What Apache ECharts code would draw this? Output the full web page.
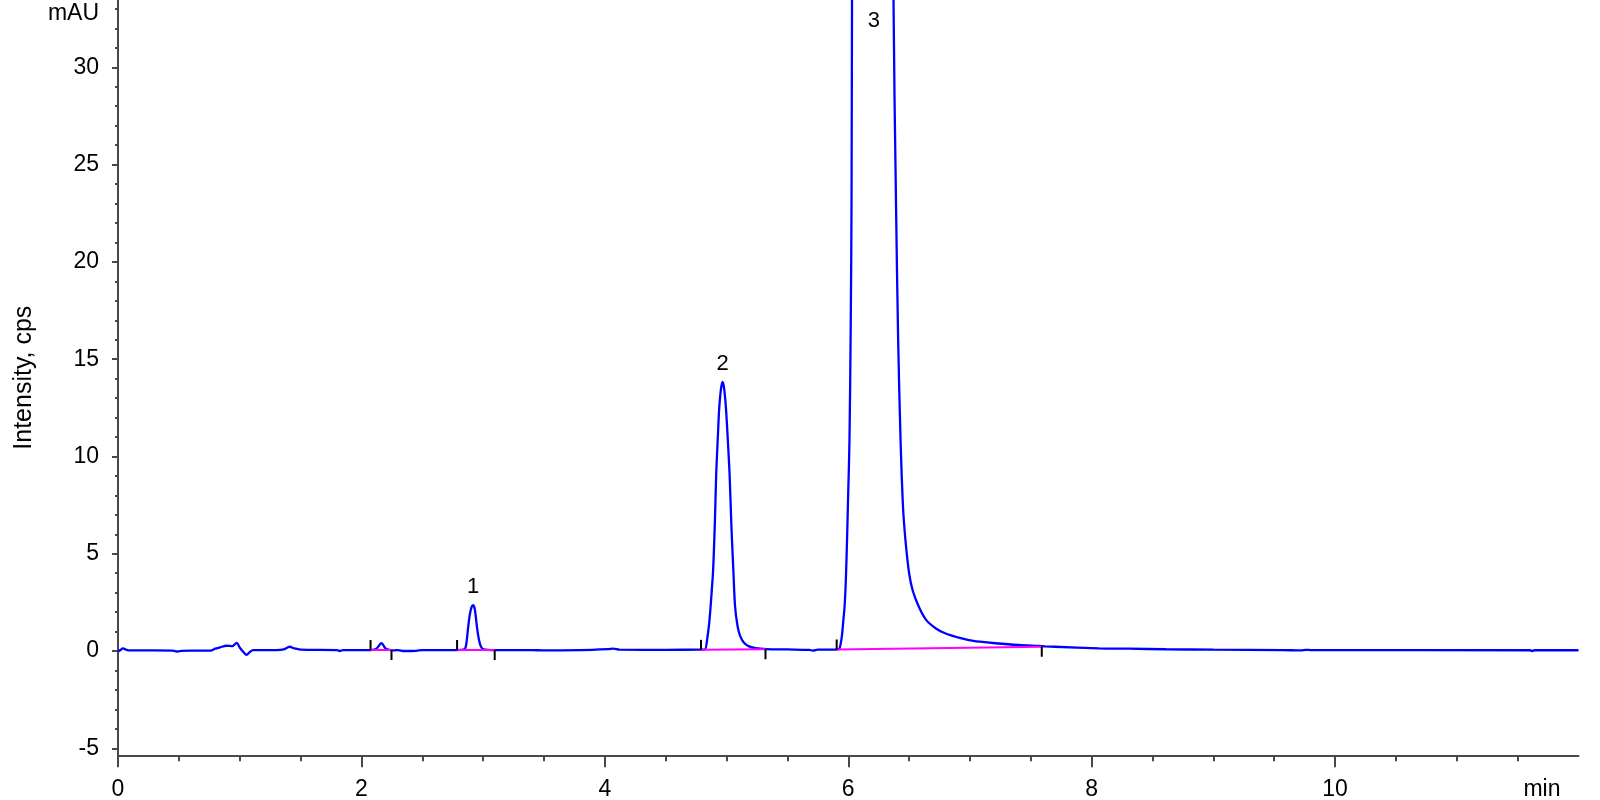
<!DOCTYPE html>
<html>
<head>
<meta charset="utf-8">
<script src="https://cdn.jsdelivr.net/npm/echarts@6/dist/echarts.min.js"></script>
<style>html,body{margin:0;padding:0;background:#fff}#chart{width:1600px;height:800px}</style>
</head>
<body>
<div id="chart"></div>
<script>
// ---- data ----
// trace: [time (min), signal (mAU)]
const trace = [
  [0.00,-0.03],[0.02,0.05],[0.04,0.14],[0.07,0.06],[0.10,0.03],[0.30,0.03],[0.45,0.02],[0.49,-0.03],
  [0.52,0.01],[0.60,0.02],[0.76,0.02],[0.80,0.12],[0.84,0.19],[0.89,0.27],[0.94,0.25],[0.975,0.42],
  [1.00,0.18],[1.03,-0.05],[1.057,-0.2],[1.08,-0.07],[1.11,0.05],[1.30,0.05],[1.36,0.08],[1.41,0.22],
  [1.45,0.13],[1.50,0.07],[1.80,0.05],[1.82,0.0],[1.85,0.05],[2.08,0.05],[2.12,0.1],[2.165,0.4],
  [2.20,0.12],[2.24,0.05],[2.27,0.03],[2.30,0.05],[2.35,0.0],[2.45,0.01],[2.50,0.05],[2.78,0.05],
  [2.845,0.08],[2.86,0.3],[2.875,1.1],[2.89,1.85],[2.905,2.25],[2.917,2.36],[2.93,2.2],[2.94,1.75],
  [2.95,1.2],[2.965,0.6],[2.98,0.25],[3.00,0.1],[3.10,0.05],[3.40,0.05],[3.50,0.03],[3.80,0.05],
  [4.03,0.1],[4.07,0.12],[4.12,0.07],[4.50,0.06],[4.78,0.07],
  [4.82,0.07],[4.845,0.8],[4.86,1.6],[4.875,2.8],[4.89,4.2],[4.905,6.8],[4.915,9.1],[4.93,11.2],
  [4.94,12.5],[4.955,13.5],[4.968,13.83],[4.98,13.5],[4.995,12.5],[5.01,10.9],[5.025,9.1],[5.04,6.4],
  [5.057,4.0],[5.07,2.3],[5.09,1.3],[5.11,0.8],[5.14,0.45],[5.18,0.25],[5.24,0.15],[5.33,0.1],
  [5.50,0.08],[5.68,0.06],[5.71,0.02],[5.75,0.07],[5.90,0.07],
  [5.925,0.1],[5.94,0.45],[5.95,0.9],[5.96,1.6],[5.97,2.3],[5.98,3.6],[5.99,5.7],[6.00,8.2],
  [6.01,10.8],[6.02,16.5],[6.027,23],[6.031,33.5],[6.06,80],[6.12,200],[6.20,290],[6.28,200],
  [6.34,80],[6.372,33.4],[6.392,23.2],[6.41,16],[6.43,10.8],[6.45,7.4],[6.47,5.7],[6.50,4.0],
  [6.53,3.1],[6.58,2.28],[6.64,1.6],[6.72,1.16],[6.80,0.9],[6.90,0.7],[6.99,0.56],[7.08,0.48],
  [7.21,0.40],[7.40,0.31],[7.57,0.26],[7.62,0.24],[7.70,0.22],[8.06,0.14],[8.30,0.12],[8.61,0.09],
  [9.00,0.07],[9.57,0.05],[9.72,0.03],[9.76,0.06],[9.80,0.05],[11.60,0.04],[11.62,0.0],[11.64,0.04],
  [12.00,0.04]
];
// integration marks
const peakStart = [2.075, 2.786, 4.79, 5.905];
const peakEnd = [2.247, 3.095, 5.32, 7.59];
const baseStart = [0.05, 0.05, 0.06, 0.08];
const baseEnd = [0.05, 0.05, 0.09, 0.22];
// peak labels
const peakNames = ['1', '2', '3'];
const peakTime = [2.917, 4.968, 6.21];
const peakHeight = [2.36, 13.83, 32.4];
// axes
const xMin = 0, xMax = 12;
const yMin = -5.36, yMax = 33.46;
const xMajor = [0, 2, 4, 6, 8, 10];
const xMinor = [0,0.5,1,1.5,2,2.5,3,3.5,4,4.5,5,5.5,6,6.5,7,7.5,8,8.5,9,9.5,10,10.5,11,11.5];
const xUnitLabel = 'min', xUnitAt = 11.7;
const yMajor = [-5, 0, 5, 10, 15, 20, 25, 30];
const yMinor = [-5,-4,-3,-2,-1,0,1,2,3,4,5,6,7,8,9,10,11,12,13,14,15,16,17,18,19,20,21,22,23,24,25,26,27,28,29,30,31,32,33];
const yUnitLabel = 'mAU', yUnitAt = 32.75;
const yTitle = 'Intensity, cps';

// ---- chart ----
const FONT = "'Liberation Sans', Arial, sans-serif";
const AX = '#484848';
const chart = echarts.init(document.getElementById('chart'), null, {renderer: 'canvas'});

const baselineSeries = peakStart.map((s, i) => ({
  type: 'line', data: [[s, baseStart[i]], [peakEnd[i], baseEnd[i]]],
  showSymbol: false, silent: true, z: 3,
  lineStyle: {color: '#ff00ff', width: 2}
}));

const labelData = peakNames.map((n, i) => ({
  value: [peakTime[i], peakHeight[i]], name: n,
  label: {position: peakHeight[i] > yMax - 2 ? 'inside' : 'top'}
}));

chart.setOption({
  animation: false,
  grid: {left: 118, right: 21.5, top: 0, bottom: 44.7, outerBoundsMode: 'none', containLabel: false},
  xAxis: [{
    type: 'value', min: xMin, max: xMax, position: 'bottom',
    axisLine: {show: true, onZero: false, lineStyle: {color: AX, width: 2}},
    axisTick: {show: true, customValues: xMajor, length: 12, lineStyle: {color: AX, width: 2}},
    axisLabel: {customValues: xMajor.concat([xUnitAt]), margin: 23, color: '#000', fontFamily: FONT, fontSize: 23,
      formatter: v => (v === xUnitAt ? xUnitLabel : String(v))},
    splitLine: {show: false}
  }, {
    type: 'value', min: xMin, max: xMax, position: 'bottom',
    axisLine: {show: false, onZero: false},
    axisTick: {show: true, customValues: xMinor, length: 6, lineStyle: {color: AX, width: 2}},
    axisLabel: {show: false}, splitLine: {show: false}
  }],
  yAxis: [{
    type: 'value', min: yMin, max: yMax, position: 'left',
    name: yTitle, nameLocation: 'middle', nameGap: 80,
    nameTextStyle: {color: '#000', fontFamily: FONT, fontSize: 25},
    axisLine: {show: true, onZero: false, lineStyle: {color: AX, width: 2}},
    axisTick: {show: true, customValues: yMajor, length: 6, lineStyle: {color: AX, width: 2}},
    axisLabel: {customValues: yMajor.concat([yUnitAt]), margin: 19, color: '#000', fontFamily: FONT, fontSize: 23,
      formatter: v => (v === yUnitAt ? yUnitLabel : String(v))},
    splitLine: {show: false}
  }, {
    type: 'value', min: yMin, max: yMax, position: 'left',
    axisLine: {show: false, onZero: false},
    axisTick: {show: true, customValues: yMinor, length: 3, lineStyle: {color: AX, width: 2}},
    axisLabel: {show: false}, splitLine: {show: false}
  }],
  series: [
    {
      type: 'line', data: trace, showSymbol: false, clip: true, smooth: 0.3, z: 2,
      lineStyle: {color: '#0000ff', width: 2.3}
    },
    ...baselineSeries,
    {
      type: 'scatter', data: peakStart.map((s, i) => [s, baseStart[i]]), z: 4, silent: true,
      symbol: 'rect', symbolSize: [2, 10], symbolOffset: [0, -5], itemStyle: {color: '#000', opacity: 1}
    },
    {
      type: 'scatter', data: peakEnd.map((e, i) => [e, baseEnd[i]]), z: 4, silent: true,
      symbol: 'rect', symbolSize: [2, 10], symbolOffset: [0, 5], itemStyle: {color: '#000', opacity: 1}
    },
    {
      type: 'scatter', data: labelData, z: 5, silent: true, symbolSize: 0, itemStyle: {opacity: 1},
      label: {show: true, formatter: p => p.name, distance: 7, color: '#000', opacity: 1, fontFamily: FONT, fontSize: 22}
    }
  ]
});
</script>
</body>
</html>
